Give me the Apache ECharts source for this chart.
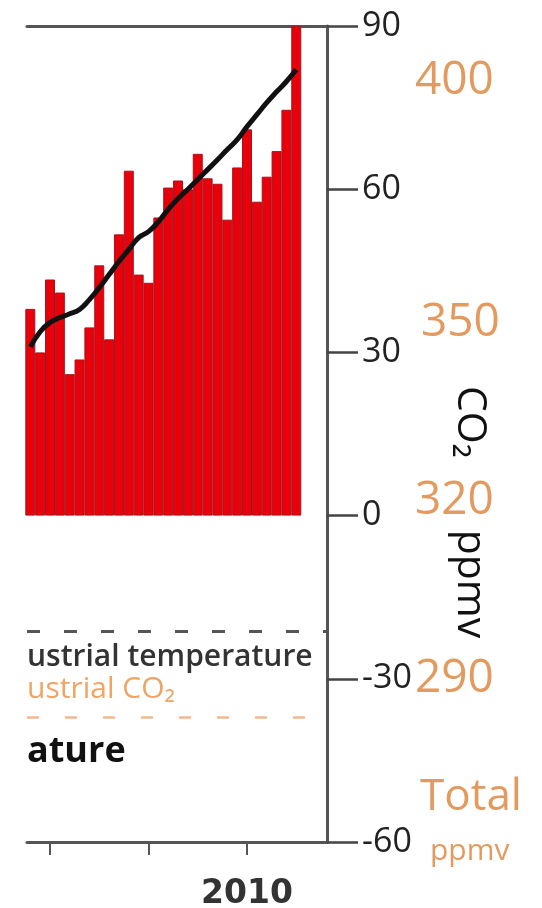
<!DOCTYPE html>
<html>
<head>
<meta charset="utf-8">
<style>
html,body{margin:0;padding:0;background:#fff;}
#chart{width:542px;height:908px;}
</style>
<script src="https://cdn.jsdelivr.net/npm/echarts@6/dist/echarts.min.js"></script>
</head>
<body>
<div id="chart"></div>
<script>
// ---- data ----
var years = [1988,1989,1990,1991,1992,1993,1994,1995,1996,1997,1998,1999,2000,2001,2002,2003,2004,2005,2006,2007,2008,2009,2010,2011,2012,2013,2014,2015];
var barValues = [38,30,43.4,41,26,28.7,34.6,46,32.4,51.7,63.4,44.3,42.8,54.8,60.3,61.6,60,66.5,62,61,54.4,64,71,57.7,62.3,67,74.6,90];
var trendValues = [31,33.8,35.5,36.4,37.1,37.9,39.7,41.9,44.3,46.7,48.9,51.1,52.2,54,56.3,58.3,60,61.8,63.6,65.4,67.3,69.1,71.5,73.7,75.9,77.9,79.8,82];
var xTickYears = [1990, 2000, 2010];
var xLabelYears = [2010];
var ppmvTicks = [290, 320, 350, 400];
var preIndustrialTemp = -21.3;
var preIndustrialCO2 = -37;

var barData = years.map(function(y,i){return [y, barValues[i]];});
var lineData = years.map(function(y,i){return [y, trendValues[i]];});

var ORANGE = '#e39a5e';
var chart = echarts.init(document.getElementById('chart'), null, {renderer:'canvas'});
chart.setOption({
  animation:false,
  backgroundColor:'#fff',
  grid:{left:27,right:215,top:26,bottom:66,containLabel:false,outerBoundsMode:'none'},
  xAxis:[{
    type:'value', position:'bottom', min:1987.665, max:2018.12,
    axisLine:{show:true,onZero:false,lineStyle:{color:'#555',width:3}},
    axisTick:{show:true,customValues:xTickYears,length:13,lineStyle:{color:'#555',width:2}},
    axisLabel:{show:true,customValues:xLabelYears,margin:36,color:'#333',fontSize:33,fontWeight:'bold',fontFamily:'DejaVu Sans',
      formatter:function(v){return String(v);}},
    splitLine:{show:false}
  },{
    type:'value', position:'top', min:1987.665, max:2018.12,
    axisLine:{show:true,onZero:false,lineStyle:{color:'#555',width:3}},
    axisTick:{show:false}, axisLabel:{show:false}, splitLine:{show:false}
  }],
  yAxis:[{
    type:'value', position:'right', offset:0, min:-60, max:90, interval:30,
    axisLine:{show:true,onZero:false,lineStyle:{color:'#555',width:3}},
    axisTick:{show:true,length:31,lineStyle:{color:'#444',width:2.5}},
    axisLabel:{show:true,margin:35,align:'left',color:'#222',fontSize:34,fontFamily:'Open Sans'},
    splitLine:{show:false}
  },{
    type:'value', position:'right', offset:0, min:260, max:410,
    axisLine:{show:false}, axisTick:{show:false}, splitLine:{show:false},
    axisLabel:{show:true,customValues:ppmvTicks,margin:88,align:'left',
      formatter:function(v){
        if(v===350) return '{a|'+v+'}';
        if(v===320) return '{b|'+v+'}';
        return '{n|'+v+'}';
      },
      rich:{
        n:{color:ORANGE,fontSize:46,fontFamily:'Open Sans'},
        a:{color:ORANGE,fontSize:46,fontFamily:'Open Sans',padding:[0,0,60,6]},
        b:{color:ORANGE,fontSize:46,fontFamily:'Open Sans',padding:[0,0,30,0]}
      }
    }
  }],
  series:[{
    type:'bar', xAxisIndex:0, yAxisIndex:0, data:barData, barWidth:10, clip:true,
    itemStyle:{color:'#e8000a',borderColor:'#a8121c',borderWidth:1},
    markLine:{
      silent:true, symbol:'none', label:{show:false},
      data:[
        {yAxis:preIndustrialTemp,lineStyle:{color:'#555',width:3,type:[13,24]}},
        {yAxis:preIndustrialCO2,lineStyle:{color:'#f2b98e',width:2.5,type:[12,26]}}
      ]
    }
  },{
    type:'line', xAxisIndex:0, yAxisIndex:0, data:lineData, smooth:true, showSymbol:false,
    lineStyle:{color:'#111',width:5}
  }],
  graphic:[
    {type:'text',x:470,y:422,rotation:-Math.PI/2,style:{text:'CO₂',font:'41px "Open Sans"',fill:'#111',textAlign:'center',textVerticalAlign:'middle',align:'center',verticalAlign:'middle'}},
    {type:'text',x:470,y:584,rotation:-Math.PI/2,style:{text:'ppmv',font:'41px "Open Sans"',fill:'#111',textAlign:'center',textVerticalAlign:'middle',align:'center',verticalAlign:'middle'}},
    {type:'text',x:420,y:797,style:{text:'Total',font:'44px "Open Sans"',fill:ORANGE,textAlign:'left',textVerticalAlign:'middle',align:'left',verticalAlign:'middle'}},
    {type:'text',x:430,y:851,style:{text:'ppmv',font:'30px "Open Sans"',fill:ORANGE,textAlign:'left',textVerticalAlign:'middle',align:'left',verticalAlign:'middle'}},
    {type:'text',x:27,y:657,style:{text:'ustrial temperature',font:'600 30px "Open Sans"',fill:'#333',textAlign:'left',textVerticalAlign:'middle',align:'left',verticalAlign:'middle'}},
    {type:'text',x:27,y:689,style:{text:'ustrial CO₂',font:'30px "Open Sans"',fill:'#f0a466',textAlign:'left',textVerticalAlign:'middle',align:'left',verticalAlign:'middle'}},
    {type:'text',x:27,y:752,style:{text:'ature',font:'bold 36px "Open Sans"',fill:'#111',textAlign:'left',textVerticalAlign:'middle',align:'left',verticalAlign:'middle'}}
  ]
});
</script>
</body>
</html>
